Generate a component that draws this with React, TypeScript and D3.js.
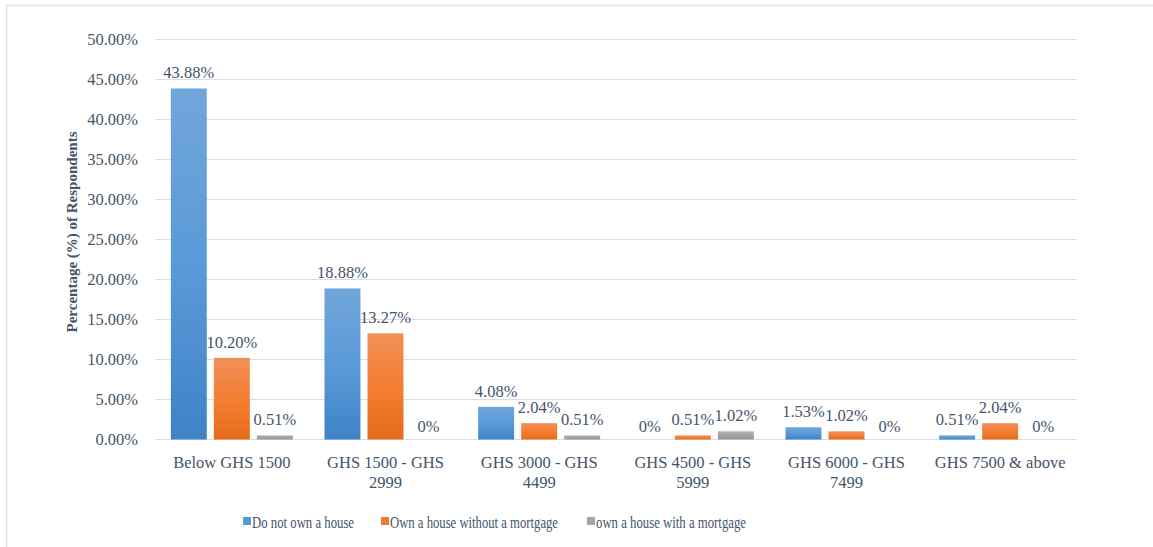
import React from "react";
import * as d3 from "d3";

const categories = [
  ["Below GHS 1500"],
  ["GHS 1500 - GHS", "2999"],
  ["GHS 3000 - GHS", "4499"],
  ["GHS 4500 - GHS", "5999"],
  ["GHS 6000 - GHS", "7499"],
  ["GHS 7500 & above"],
];
const seriesNames = ["Do not own a house", "Own a house without a mortgage", "own a house with a mortgage"];
const doNotOwn = [43.88, 18.88, 4.08, 0, 1.53, 0.51];
const ownNoMortgage = [10.2, 13.27, 2.04, 0.51, 1.02, 2.04];
const ownMortgage = [0.51, 0, 0.51, 1.02, 0, 0];
const yTicks = [0, 5, 10, 15, 20, 25, 30, 35, 40, 45, 50];

const W = 1153;
const H = 547;
const TEXT = "#44546a";
const FONT = "'Liberation Serif', 'Times New Roman', serif";

export default function App() {
  const series = [doNotOwn, ownNoMortgage, ownMortgage];
  const x = d3.scaleBand<number>().domain(d3.range(categories.length)).range([155, 1077]);
  const y = d3.scaleLinear().domain([0, 50]).range([439.5, 39.5]);
  const bw = x.bandwidth();
  const barW = bw * 0.234;
  const gap = bw * 0.046;
  const groupW = barW * 3 + gap * 2;
  const off = (bw - groupW) / 2;
  const fills = ["url(#gBlue)", "url(#gOrange)", "url(#gGray)"];
  const legendSwatch = ["#5b9bd5", "#ed7d31", "#a5a5a5"];
  const legendX = [243, 381, 587];
  const legendLen = [102, 168, 150];
  const fmt = (v: number) => (v === 0 ? "0%" : v.toFixed(2) + "%");

  return (
    <svg width={W} height={H} style={{ position: "absolute", left: 0, top: 0 }} fontFamily={FONT}>
      <defs>
        <linearGradient id="gBlue" x1="0" y1="0" x2="0" y2="1">
          <stop offset="0" stopColor="#71a6da" />
          <stop offset="0.5" stopColor="#5a9ad9" />
          <stop offset="1" stopColor="#3f83c6" />
        </linearGradient>
        <linearGradient id="gOrange" x1="0" y1="0" x2="0" y2="1">
          <stop offset="0" stopColor="#f28f57" />
          <stop offset="0.5" stopColor="#f47e32" />
          <stop offset="1" stopColor="#e56b1a" />
        </linearGradient>
        <linearGradient id="gGray" x1="0" y1="0" x2="0" y2="1">
          <stop offset="0" stopColor="#b1b1b1" />
          <stop offset="1" stopColor="#979797" />
        </linearGradient>
      </defs>
      <rect x={0} y={0} width={W} height={H} fill="#fff" />
      <rect x={6.5} y={5.5} width={1300} height={700} fill="none" stroke="#dde1e8" strokeWidth={1.5} />
      {yTicks.map((t) => (
        <g key={t}>
          <line x1={155} x2={1077} y1={y(t)} y2={y(t)} stroke="#dadde3" strokeWidth={1.2} />
          <text x={138} y={y(t) + 5} textAnchor="end" fontSize={16.5} fill={TEXT}>
            {t.toFixed(2) + "%"}
          </text>
        </g>
      ))}
      <text
        transform={`translate(77,232) rotate(-90)`}
        textAnchor="middle"
        fontSize={15}
        fontWeight="bold"
        fill={TEXT}
      >
        Percentage (%) of Respondents
      </text>
      {series.map((vals, si) =>
        vals.map((v, ci) => {
          const bx = (x(ci) as number) + off + si * (barW + gap);
          return (
            <g key={`${si}-${ci}`}>
              {v > 0 && (
                <rect x={bx} y={y(v)} width={barW} height={y(0) - y(v)} fill={fills[si]} />
              )}
              <text
                x={bx + barW / 2}
                y={y(v) - (v === 0 ? 8 : 10)}
                textAnchor="middle"
                fontSize={16.5}
                fill={TEXT}
              >
                {fmt(v)}
              </text>
            </g>
          );
        })
      )}
      {categories.map((lines, ci) => (
        <text key={ci} textAnchor="middle" fontSize={16.5} fill={TEXT}>
          {lines.map((l, li) => (
            <tspan key={li} x={(x(ci) as number) + bw / 2} y={468 + li * 20}>
              {l}
            </tspan>
          ))}
        </text>
      ))}
      {seriesNames.map((n, i) => (
        <g key={n}>
          <rect x={legendX[i]} y={517} width={8} height={8} fill={legendSwatch[i]} />
          <text
            x={legendX[i] + 9}
            y={528}
            fontSize={16}
            fill={TEXT}
            textLength={legendLen[i]}
            lengthAdjust="spacingAndGlyphs"
          >
            {n}
          </text>
        </g>
      ))}
    </svg>
  );
}
